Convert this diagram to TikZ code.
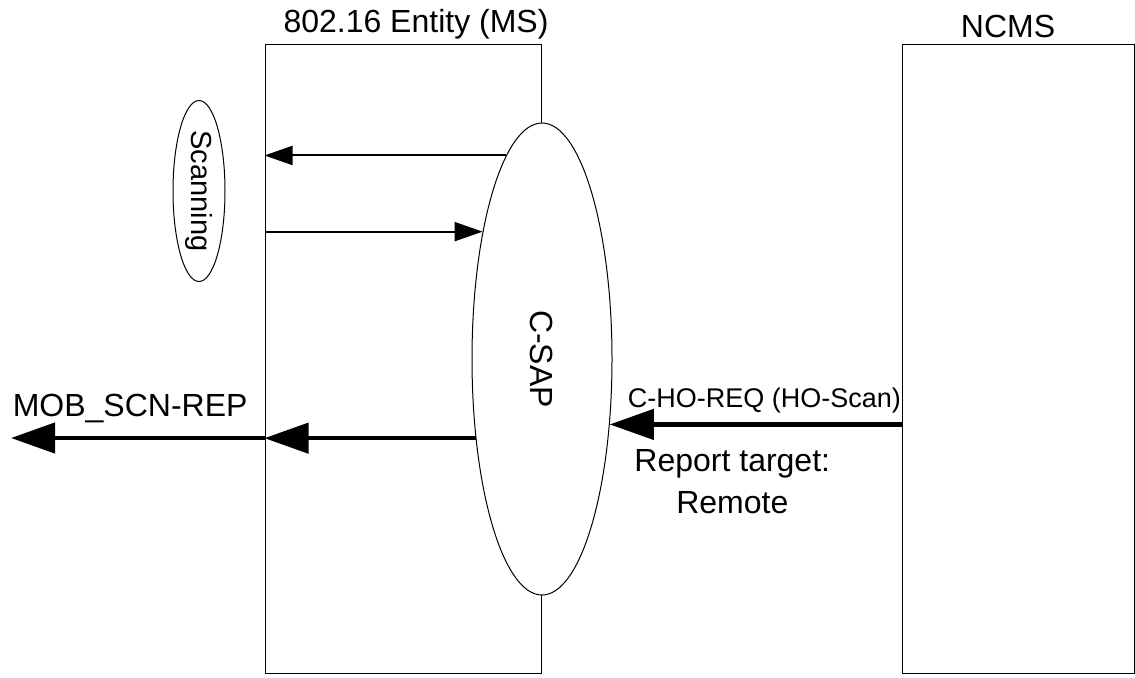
\documentclass[tikz,border=0pt]{standalone}
\usepackage{fontspec}
\setmainfont{Liberation Sans}
\usetikzlibrary{arrows.meta,shapes.geometric,positioning}
\tikzset{
  entity/.style={
      rectangle,
      inner sep=0pt,
      line width=0.5pt,
      draw
  },
  sap/.style={
      ellipse,
      inner sep=0pt,
      line width=0.5pt,
      draw,
      fill=white
  },
  prim/.style={line width=1pt,-{Triangle[length=14pt,width=9.5pt]}},
  msg/.style={line width=2.2pt,-{Triangle[length=22pt,width=15pt]}},
  big/.style={font=\fontsize{16}{21}\selectfont},
  small/.style={font=\fontsize{13.5}{15}\selectfont}
}
\begin{document}
\begin{tikzpicture}[x=0.5pt,y=-0.5pt]
    \useasboundingbox (0,0) rectangle (1135,677);
    \node[entity,minimum width=138pt,minimum height=314.5pt] (ms) at (403,358.5) {};
    \node[entity,minimum width=116pt,minimum height=314.5pt] (ncms) at (1018,358.5) {};
    \node[big,anchor=base] (mstitle) at (416,32) {802.16 Entity (MS)};
    \node[big,anchor=base] (ncmstitle) at (1008,37) {NCMS};
    \node[sap,minimum width=90.5pt,minimum height=26pt,rotate=-90,font=\fontsize{14.5}{17}\selectfont] (scan) at (199,191) {Scanning};
    \node[sap,minimum width=70pt,minimum height=236pt,big] (csap) at (542,359) {\rotatebox{-90}{C-SAP}};
    \coordinate (mobend) at (11,438);
    \draw[prim] (csap.100.5) -- (csap.100.5 -| ms.west);
    \draw[prim] (ms.west |- csap.115.7) -- (csap.115.7);
    \draw[msg] (csap.230) -- (csap.230 -| ms.west);
    \draw[msg] (ms.west |- mobend) -- node[big,above=3pt,pos=0.53] {MOB\_SCN-REP} (mobend);
    \draw[msg] (ncms.west |- csap.316.3) -- node[small,above=1pt,pos=0.47] {C-HO-REQ (HO-Scan)}
        node[big,below=8pt,pos=0.58,align=center] {Report target:\\Remote} (csap.316.3);
\end{tikzpicture}
\end{document}
